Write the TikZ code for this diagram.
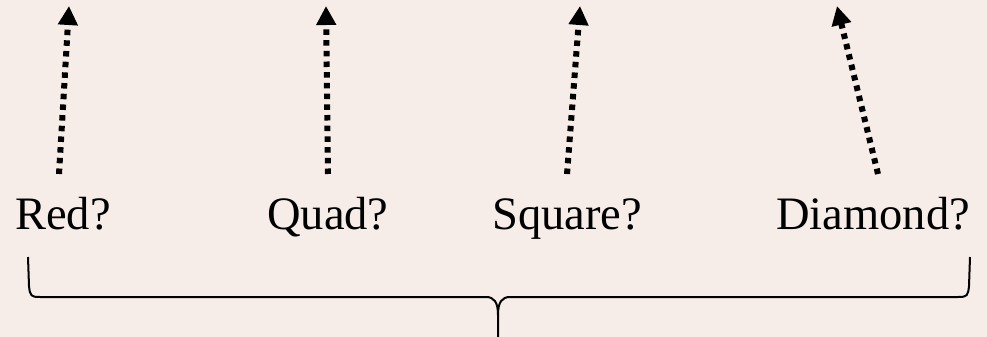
\documentclass[tikz,border=0pt]{standalone}
\usepackage{fontspec}
\setmainfont{Liberation Serif}
\usetikzlibrary{arrows.meta}
\definecolor{parch}{RGB}{247,237,232}
\tikzset{
  lbl/.style={anchor=base west, inner sep=0pt, font=\fontsize{46.5}{56}\selectfont},
  dotarrow/.style={line width=6pt, dash pattern=on 5.5pt off 5.2pt,
     -{Triangle[width=19pt,length=19pt]}},
  bracestyle/.style={line width=2pt, line join=round}
}
\begin{document}
\begin{tikzpicture}[x=1pt,y=-1pt]
\fill[parch] (0,0) rectangle (987,337);
\useasboundingbox (0,0) rectangle (987,337);
% labels
\node[lbl] (red) at (15,229) {Red?};
\node[lbl] (quad) at (267,229) {Quad?};
\node[lbl] (square) at (492,229) {Square?};
\node[lbl] (diamond) at (776,229) {Diamond?};
% arrow ends
\coordinate (r0) at (59,174);   \coordinate (r1) at (69,6);
\coordinate (q0) at (328,174);  \coordinate (q1) at (326,6);
\coordinate (s0) at (567,174);  \coordinate (s1) at (580,6);
\coordinate (d0) at (878,174);  \coordinate (d1) at (837,6);
\draw[dotarrow] (r0) -- (r1);
\draw[dotarrow] (q0) -- (q1);
\draw[dotarrow] (s0) -- (s1);
\draw[dotarrow] (d0) -- (d1);
% brace
\coordinate (bl) at (28,257);
\coordinate (br) at (970,257);
\coordinate (bm) at (498,340);
\draw[bracestyle] (bl) -- (29,286) .. controls (30,296) and (31,297) .. (40,297)
  -- (486,297) .. controls (494,297) and (498,302) .. (498,315) -- (bm);
\draw[bracestyle] (br) -- (969,286) .. controls (968,296) and (967,297) .. (958,297)
  -- (510,297) .. controls (502,297) and (498,302) .. (498,315);
\end{tikzpicture}
\end{document}
